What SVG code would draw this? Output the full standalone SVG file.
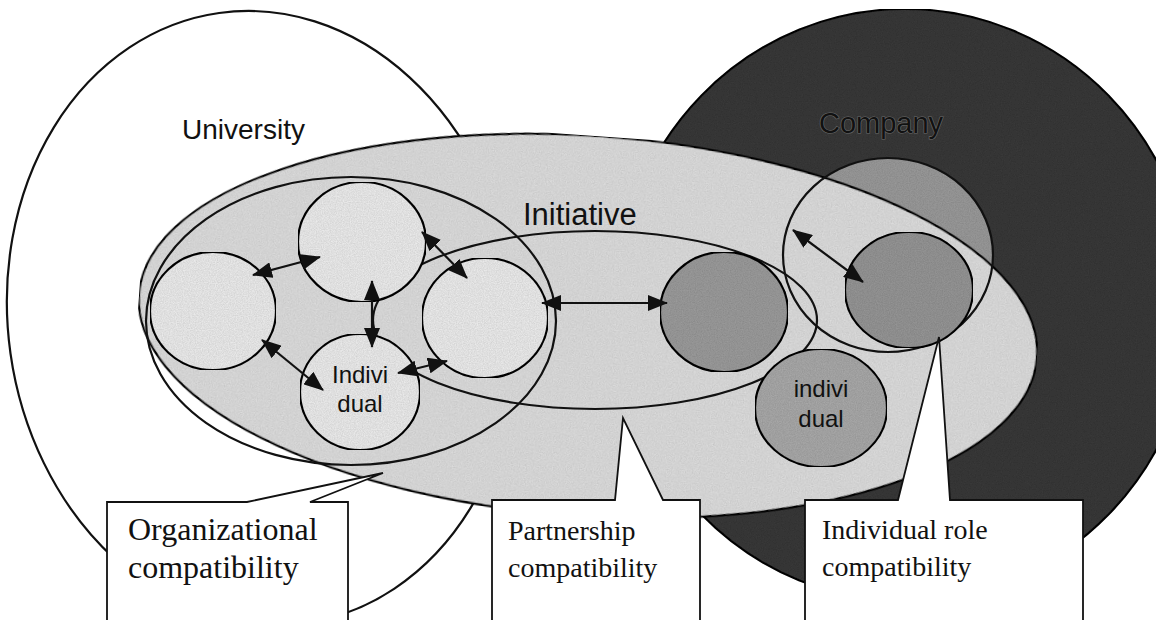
<svg xmlns="http://www.w3.org/2000/svg" width="1156" height="620" viewBox="0 0 1156 620">
  <defs>
    <style>
      .ln{stroke:#111;stroke-width:2.2}
      .nofill{fill:none}
      .light{fill:#f0f0f0}
      .sans{font-family:"Liberation Sans",Arial,sans-serif;fill:#111}
      .serif{font-family:"Liberation Serif","Times New Roman",serif;fill:#111}
      .arrow{stroke:#111;stroke-width:2.2;fill:none;marker-start:url(#ah);marker-end:url(#ah)}
      .callout{fill:#fff;stroke:#111;stroke-width:1.8}
      .grain{filter:url(#grain)}
    </style>
    <filter id="grain" x="0" y="0" width="100%" height="100%" filterUnits="objectBoundingBox">
      <feTurbulence type="fractalNoise" baseFrequency="0.85" numOctaves="2" seed="7" result="n"/>
      <feColorMatrix in="n" type="matrix" values="0 0 0 0 0  0 0 0 0 0  0 0 0 0 0  0 0 0 0.3 0" result="na"/>
      <feComposite in="na" in2="SourceAlpha" operator="in" result="nm"/>
      <feMerge><feMergeNode in="SourceGraphic"/><feMergeNode in="nm"/></feMerge>
    </filter>
    <marker id="ah" viewBox="0 0 20 16" refX="19" refY="8" markerWidth="20" markerHeight="16" markerUnits="userSpaceOnUse" orient="auto-start-reverse">
      <path d="M0,0 L20,8 L0,16 Z" fill="#111"/>
    </marker>
  </defs>
  <rect width="1156" height="620" fill="#fff"/>

  <g id="university">
    <ellipse cx="262" cy="318" rx="254" ry="308" transform="rotate(-8 262 318)" fill="#fff" class="ln"/>
    <text x="182" y="139" class="sans" font-size="28">University</text>
  </g>

  <g id="company">
    <ellipse cx="905" cy="305" rx="288" ry="296" fill="#3a3a3a" class="ln grain"/>
    <ellipse id="company-circle-fill" cx="888" cy="255" rx="105" ry="97" fill="#9c9c9c" class="grain"/>
    <text x="819" y="133" class="sans" font-size="29" fill="#222" stroke="#6a6a6a" stroke-width="1.2" paint-order="stroke">Company</text>
  </g>

  <g id="initiative">
    <ellipse cx="588" cy="326" rx="450" ry="190" transform="rotate(4 588 326)" fill="#e2e2e2" class="ln grain"/>
    <text x="523" y="225" class="sans" font-size="31">Initiative</text>
  </g>

  <g id="company-circle">
    <ellipse cx="888" cy="255" rx="105" ry="97" class="ln nofill"/>
  </g>

  <g id="organization">
    <ellipse cx="351" cy="321" rx="205" ry="144" class="ln nofill"/>
  </g>

  <g id="partnership">
    <ellipse cx="595" cy="320" rx="222" ry="89" class="ln nofill"/>
  </g>

  <g id="u-member-1"><ellipse cx="213" cy="311" rx="63" ry="59" class="light ln grain"/></g>
  <g id="u-member-2"><ellipse cx="362" cy="242" rx="64" ry="60" class="light ln grain"/></g>
  <g id="u-member-3"><ellipse cx="485" cy="318" rx="63" ry="60" class="light ln grain"/></g>
  <g id="u-individual">
    <ellipse cx="360" cy="392" rx="60" ry="58" class="light ln grain"/>
    <text x="360" y="383" class="sans" font-size="24" text-anchor="middle">Indivi</text>
    <text x="360" y="412" class="sans" font-size="24" text-anchor="middle">dual</text>
  </g>

  <g id="c-member-1"><ellipse cx="724" cy="312" rx="64" ry="60" fill="#9e9e9e" class="ln grain"/></g>
  <g id="c-member-2"><ellipse cx="909" cy="290" rx="64" ry="58" fill="#989898" class="ln grain"/></g>
  <g id="c-individual">
    <ellipse cx="821" cy="408" rx="66" ry="59" fill="#acacac" class="ln grain"/>
    <text x="821" y="397" class="sans" font-size="24" text-anchor="middle">indivi</text>
    <text x="821" y="427" class="sans" font-size="24" text-anchor="middle">dual</text>
  </g>

  <g id="connectors">
    <line x1="253" y1="275" x2="320" y2="257" class="arrow"/>
    <line x1="422" y1="232" x2="467" y2="278" class="arrow"/>
    <line x1="372" y1="281" x2="372" y2="347" class="arrow"/>
    <line x1="398" y1="373" x2="447" y2="361" class="arrow"/>
    <line x1="262" y1="340" x2="323" y2="390" class="arrow"/>
    <line x1="542" y1="303" x2="667" y2="303" class="arrow"/>
    <line x1="793" y1="230" x2="863" y2="282" class="arrow"/>
  </g>

  <g id="callout-organizational">
    <path d="M107,625 L107,502 L247,502 L383,473 L310,502 L348,502 L348,625" class="callout"/>
    <text x="128" y="540" class="serif" font-size="32">Organizational</text>
    <text x="128" y="578" class="serif" font-size="32">compatibility</text>
  </g>

  <g id="callout-partnership">
    <path d="M492,625 L492,500 L615,500 L623,418 L663,500 L700,500 L700,625" class="callout"/>
    <text x="508" y="540" class="serif" font-size="28">Partnership</text>
    <text x="508" y="577" class="serif" font-size="28">compatibility</text>
  </g>

  <g id="callout-individual-role">
    <path d="M805,625 L805,500 L898,500 L939,337 L950,500 L1083,500 L1083,625" class="callout"/>
    <text x="822" y="539" class="serif" font-size="28">Individual role</text>
    <text x="822" y="576" class="serif" font-size="28">compatibility</text>
  </g>
</svg>
